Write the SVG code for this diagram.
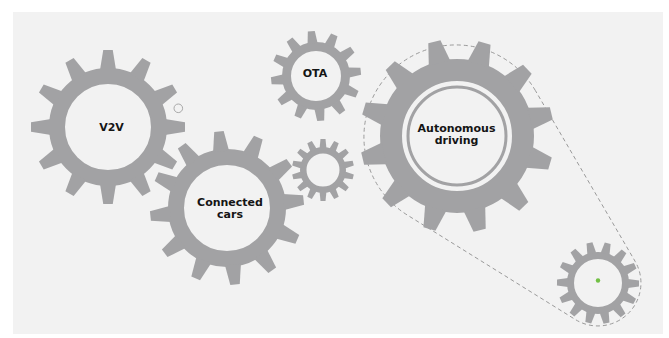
<svg xmlns="http://www.w3.org/2000/svg" xmlns:xlink="http://www.w3.org/1999/xlink" width="669" height="338" viewBox="0 0 669 338">
  <style>
    .body { fill: none; stroke: #a2a2a4; }
    .tooth { fill: #a2a2a4; }
    .label { font-family: "DejaVu Sans", Verdana, sans-serif; font-weight: bold; font-size: 11px; fill: #151515; text-anchor: middle; }
    .belt { fill: none; stroke: #9a9a9a; stroke-width: 1; stroke-dasharray: 4 3; }
  </style>
  <defs>
    <!-- tooth profiles, pointing up from the gear centre -->
    <path id="toothL" class="tooth" d="M-8,-57 L-4.75,-77 L4.75,-77 L8,-57 Z"/>
    <path id="toothXL" class="tooth" d="M-11,-75 L-6.25,-97 L6.25,-97 L11,-75 Z"/>
    <path id="toothM" class="tooth" d="M-5,-33 L-3.5,-45 L3.5,-45 L5,-33 Z"/>
    <path id="toothS" class="tooth" d="M-4.5,-30 L-3,-41 L3,-41 L4.5,-30 Z"/>
    <path id="toothXS" class="tooth" d="M-3.5,-21 L-2.5,-31 L2.5,-31 L3.5,-21 Z"/>
  </defs>

  <rect x="13" y="12" width="650" height="322" fill="#f2f2f2"/>

  <!-- chain belt between the drive gear and the small gear -->
  <g id="connectors">
    <path class="belt" d="M535.4,90.6 A92,92 0 1 0 407.4,215.1 L575.3,319.5 A43,43 0 0 0 635.1,261.3 Z"/>
  </g>

  <g id="v2v" transform="translate(108,127)">
    <circle class="body" r="51" stroke-width="16"/>
    <use xlink:href="#toothL"/>
    <use xlink:href="#toothL" transform="rotate(30)"/>
    <use xlink:href="#toothL" transform="rotate(60)"/>
    <use xlink:href="#toothL" transform="rotate(90)"/>
    <use xlink:href="#toothL" transform="rotate(120)"/>
    <use xlink:href="#toothL" transform="rotate(150)"/>
    <use xlink:href="#toothL" transform="rotate(180)"/>
    <use xlink:href="#toothL" transform="rotate(210)"/>
    <use xlink:href="#toothL" transform="rotate(240)"/>
    <use xlink:href="#toothL" transform="rotate(270)"/>
    <use xlink:href="#toothL" transform="rotate(300)"/>
    <use xlink:href="#toothL" transform="rotate(330)"/>
    <text class="label" x="3.5" y="3.5">V2V</text>
  </g>
  <circle cx="178.3" cy="108.3" r="4.3" fill="none" stroke="#a8a8a8" stroke-width="1"/>

  <g id="connected-cars" transform="translate(227,208)">
    <circle class="body" r="51" stroke-width="16"/>
    <g transform="rotate(-6)">
      <use xlink:href="#toothL"/>
      <use xlink:href="#toothL" transform="rotate(30)"/>
      <use xlink:href="#toothL" transform="rotate(60)"/>
      <use xlink:href="#toothL" transform="rotate(90)"/>
      <use xlink:href="#toothL" transform="rotate(120)"/>
      <use xlink:href="#toothL" transform="rotate(150)"/>
      <use xlink:href="#toothL" transform="rotate(180)"/>
      <use xlink:href="#toothL" transform="rotate(210)"/>
      <use xlink:href="#toothL" transform="rotate(240)"/>
      <use xlink:href="#toothL" transform="rotate(270)"/>
      <use xlink:href="#toothL" transform="rotate(300)"/>
      <use xlink:href="#toothL" transform="rotate(330)"/>
    </g>
    <text class="label" x="3" y="-2.3">Connected</text>
    <text class="label" x="3" y="9.7">cars</text>
  </g>

  <g id="ota" transform="translate(316,76)">
    <circle class="body" r="29.5" stroke-width="9"/>
    <g transform="rotate(-6)">
      <use xlink:href="#toothM"/>
      <use xlink:href="#toothM" transform="rotate(30)"/>
      <use xlink:href="#toothM" transform="rotate(60)"/>
      <use xlink:href="#toothM" transform="rotate(90)"/>
      <use xlink:href="#toothM" transform="rotate(120)"/>
      <use xlink:href="#toothM" transform="rotate(150)"/>
      <use xlink:href="#toothM" transform="rotate(180)"/>
      <use xlink:href="#toothM" transform="rotate(210)"/>
      <use xlink:href="#toothM" transform="rotate(240)"/>
      <use xlink:href="#toothM" transform="rotate(270)"/>
      <use xlink:href="#toothM" transform="rotate(300)"/>
      <use xlink:href="#toothM" transform="rotate(330)"/>
    </g>
    <text class="label" x="-1" y="0.5">OTA</text>
  </g>

  <g id="idler" transform="translate(323,170)">
    <circle class="body" r="19.75" stroke-width="6.5"/>
    <use xlink:href="#toothXS"/>
    <use xlink:href="#toothXS" transform="rotate(25.71)"/>
    <use xlink:href="#toothXS" transform="rotate(51.43)"/>
    <use xlink:href="#toothXS" transform="rotate(77.14)"/>
    <use xlink:href="#toothXS" transform="rotate(102.86)"/>
    <use xlink:href="#toothXS" transform="rotate(128.57)"/>
    <use xlink:href="#toothXS" transform="rotate(154.29)"/>
    <use xlink:href="#toothXS" transform="rotate(180)"/>
    <use xlink:href="#toothXS" transform="rotate(205.71)"/>
    <use xlink:href="#toothXS" transform="rotate(231.43)"/>
    <use xlink:href="#toothXS" transform="rotate(257.14)"/>
    <use xlink:href="#toothXS" transform="rotate(282.86)"/>
    <use xlink:href="#toothXS" transform="rotate(308.57)"/>
    <use xlink:href="#toothXS" transform="rotate(334.29)"/>
  </g>

  <g id="autonomous-driving" transform="translate(457,136)">
    <circle class="body" r="66" stroke-width="22"/>
    <circle class="body" r="49" stroke-width="3"/>
    <g transform="rotate(-13.5)">
      <use xlink:href="#toothXL"/>
      <use xlink:href="#toothXL" transform="rotate(30)"/>
      <use xlink:href="#toothXL" transform="rotate(60)"/>
      <use xlink:href="#toothXL" transform="rotate(90)"/>
      <use xlink:href="#toothXL" transform="rotate(120)"/>
      <use xlink:href="#toothXL" transform="rotate(150)"/>
      <use xlink:href="#toothXL" transform="rotate(180)"/>
      <use xlink:href="#toothXL" transform="rotate(210)"/>
      <use xlink:href="#toothXL" transform="rotate(240)"/>
      <use xlink:href="#toothXL" transform="rotate(270)"/>
      <use xlink:href="#toothXL" transform="rotate(300)"/>
      <use xlink:href="#toothXL" transform="rotate(330)"/>
    </g>
    <text class="label" x="-0.5" y="-3.7">Autonomous</text>
    <text class="label" x="-0.5" y="8.3">driving</text>
  </g>

  <g id="sprocket" transform="translate(598,283)">
    <circle class="body" r="27.5" stroke-width="7"/>
    <g transform="rotate(-12)">
      <use xlink:href="#toothS"/>
      <use xlink:href="#toothS" transform="rotate(25.71)"/>
      <use xlink:href="#toothS" transform="rotate(51.43)"/>
      <use xlink:href="#toothS" transform="rotate(77.14)"/>
      <use xlink:href="#toothS" transform="rotate(102.86)"/>
      <use xlink:href="#toothS" transform="rotate(128.57)"/>
      <use xlink:href="#toothS" transform="rotate(154.29)"/>
      <use xlink:href="#toothS" transform="rotate(180)"/>
      <use xlink:href="#toothS" transform="rotate(205.71)"/>
      <use xlink:href="#toothS" transform="rotate(231.43)"/>
      <use xlink:href="#toothS" transform="rotate(257.14)"/>
      <use xlink:href="#toothS" transform="rotate(282.86)"/>
      <use xlink:href="#toothS" transform="rotate(308.57)"/>
      <use xlink:href="#toothS" transform="rotate(334.29)"/>
    </g>
    <circle cx="0" cy="-2.5" r="2.2" fill="#72c045"/>
  </g>
</svg>
